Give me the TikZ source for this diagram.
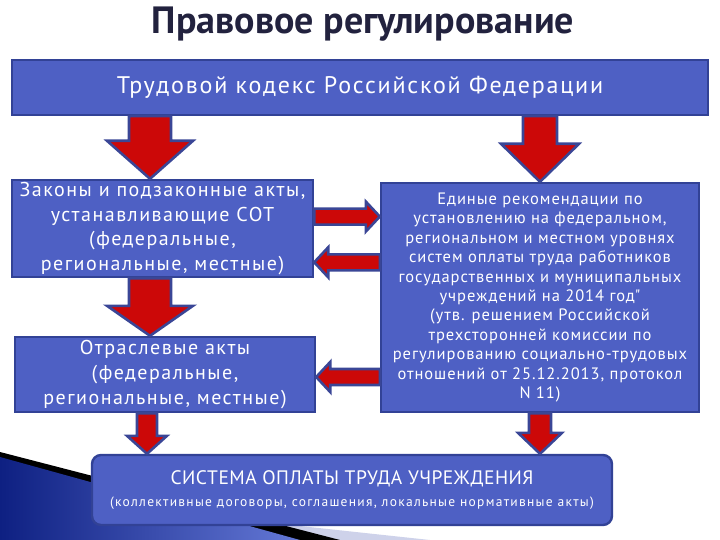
\documentclass[tikz,border=0pt]{standalone}
\usepackage{fontspec}
\setmainfont{PT Sans}
\usetikzlibrary{calc,positioning}
\definecolor{boxblue}{RGB}{78,96,196}
\definecolor{boxedge}{RGB}{50,66,150}
\definecolor{arrowred}{RGB}{204,8,8}
\definecolor{arrowedge}{RGB}{58,70,150}
\definecolor{titlecolor}{RGB}{34,34,62}
\definecolor{swooshdark}{RGB}{14,32,130}
\definecolor{swooshlight}{RGB}{100,120,214}
\definecolor{swooshpale}{RGB}{206,210,234}

\tikzset{
  shaft half/.store in=\shafthalf, head half/.store in=\headhalf, head len/.store in=\headlen,
  shaft half=20, head half=40, head len=35,
  fatarrow/.style={draw=arrowedge, line width=2.6pt, fill=arrowred, line join=miter,
    to path={let \p1=($(\tikztotarget)-(\tikztostart)$), \n1={atan2(\y1,\x1)}, \n2={veclen(\x1,\y1)} in
      {[shift={(\tikztostart)}, rotate=\n1]
       (0,-\shafthalf) -- (\n2-\headlen,-\shafthalf) -- (\n2-\headlen,-\headhalf) -- (\n2,0)
       -- (\n2-\headlen,\headhalf) -- (\n2-\headlen,\shafthalf) -- (0,\shafthalf) -- cycle}}},
}

\begin{document}
\begin{tikzpicture}[x=1pt,y=-1pt,
  bluebox/.style={rectangle,draw=boxedge,line width=2.4pt,fill=boxblue,text=white,
                  align=center,inner sep=2pt},
  titletext/.style={text=titlecolor,font=\fontsize{38}{44}\selectfont\bfseries},
  bigtext/.style={font=\fontsize{24}{28}\selectfont\addfontfeatures{LetterSpace=7.5}},
  midtext/.style={font=\fontsize{20}{24.8}\selectfont\addfontfeatures{LetterSpace=7.5}},
  smalltext/.style={font=\fontsize{16.5}{19.4}\selectfont\addfontfeatures{LetterSpace=5.7}}]
\useasboundingbox (0,0) rectangle (720,540);
% background swoosh
\fill[swooshpale] (0,455) -- (300,526) -- (430,540) -- (0,540) -- cycle;
\fill[black] (0,452) -- (340,540) -- (0,540) -- cycle;
\shade[left color=swooshdark,right color=swooshlight] (0,457) -- (300,540) -- (0,540) -- cycle;

\node[titletext] (title) at (363,24) {Правовое регулирование};
\node[bluebox,bigtext,minimum width=696pt,minimum height=55pt] (code) at (360,87.5)
  {Трудовой кодекс Российской Федерации};
\node[bluebox,midtext,minimum width=301pt,minimum height=97pt] (law) at (162.5,228.5)
  {Законы и подзаконные акты,\\ устанавливающие СОТ\\ (федеральные,\\ региональные, местные)};
\node[bluebox,midtext,minimum width=300pt,minimum height=75pt] (branch) at (165,374.5)
  {Отраслевые акты\\ (федеральные,\\ региональные, местные)};
\node[bluebox,smalltext,minimum width=318pt,minimum height=229pt] (rec) at (540,297.5)
  {Единые рекомендации по\\ установлению на федеральном,\\ региональном и местном уровнях\\
   систем оплаты труда работников\\ государственных и муниципальных\\ учреждений на 2014 год\textquotedbl\\
   (утв. решением Российской\\ трехсторонней комиссии по\\ регулированию социально-трудовых\\
   отношений от 25.12.2013, протокол\\ N 11)};
\node[bluebox,rounded corners=9pt,minimum width=520pt,minimum height=70pt] (sys) at (352,490)
  {{\fontsize{19.5}{22}\selectfont\addfontfeatures{LetterSpace=2.4}СИСТЕМА ОПЛАТЫ ТРУДА УЧРЕЖДЕНИЯ}\\[9pt]
   {\fontsize{13.5}{15}\selectfont\addfontfeatures{LetterSpace=9.5}(коллективные договоры, соглашения, локальные нормативные акты)}};

% arrows
\coordinate (a1) at ($(law.north east)!0.38!(law.south east)$);
\coordinate (b1) at ($(law.north east)!0.84!(law.south east)$);
\coordinate (c1) at ([yshift=-2.5pt]branch.east);
\draw[fatarrow,shaft half=21,head half=43,head len=38] ([xshift=-12.5pt]law.north |- code.south) to ([xshift=-12.5pt]law.north);
\draw[fatarrow,shaft half=17,head half=39,head len=38] (rec.north |- code.south) to (rec.north);
\draw[fatarrow,shaft half=21,head half=43,head len=30] ([xshift=-12.5pt]law.south) to ([xshift=-12.5pt]law.south |- branch.north);
\draw[fatarrow,shaft half=8,head half=15,head len=14] (a1) to (a1 -| rec.west);
\draw[fatarrow,shaft half=8,head half=15,head len=14] (b1 -| rec.west) to (b1);
\draw[fatarrow,shaft half=8,head half=15,head len=14] (c1 -| rec.west) to (c1);
\draw[fatarrow,shaft half=10,head half=20,head len=18] ([xshift=-18pt]branch.south) to ([xshift=-18pt]branch.south |- sys.north);
\draw[fatarrow,shaft half=11,head half=22,head len=21] (rec.south) to (rec.south |- sys.north);
\end{tikzpicture}
\end{document}
